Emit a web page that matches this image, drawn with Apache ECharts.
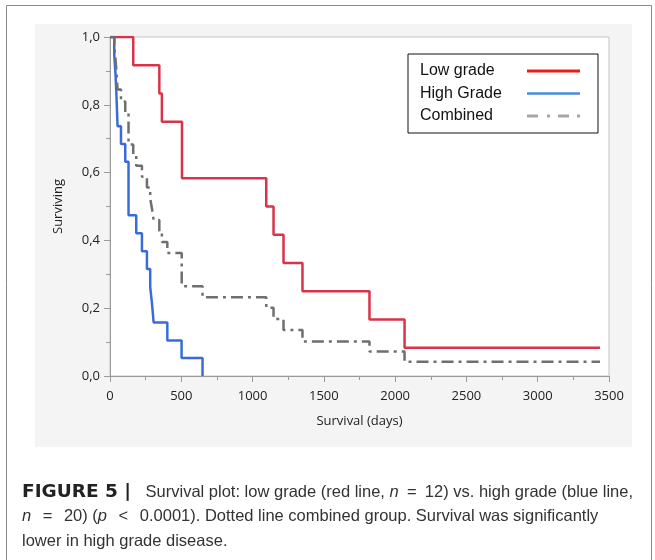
<!DOCTYPE html>
<html>
<head>
<meta charset="utf-8">
<script src="https://cdn.jsdelivr.net/npm/echarts@6/dist/echarts.min.js"></script>
<style>
html,body{margin:0;padding:0;background:#fff;}
#chart{width:655px;height:560px;}
</style>
</head>
<body>
<div id="chart"></div>
<script>
// ---- data ----
var seriesNames = ['Low grade', 'High Grade', 'Combined'];
// Kaplan-Meier steps: [days, surviving fraction]
var lowGrade = [[0,1],[163,0.917],[346,0.833],[364,0.75],[505,0.583],[1096,0.5],[1147,0.417],[1217,0.333],[1350,0.25],[1820,0.167],[2066,0.083],[3437,0.083]];
var highGrade = [[0,1],[30,0.947],[38,0.895],[44,0.842],[53,0.737],[77,0.684],[107,0.632],[130,0.474],[184,0.421],[224,0.368],[259,0.316],[282,0.263],[295,0.211],[306,0.158],[402,0.105],[502,0.053],[649,0]];
var combined = [[0,1],[30,0.969],[38,0.938],[44,0.906],[53,0.845],[77,0.81],[107,0.778],[130,0.683],[163,0.651],[184,0.62],[224,0.588],[259,0.556],[282,0.524],[295,0.492],[306,0.46],[346,0.428],[364,0.395],[402,0.363],[503,0.265],[649,0.232],[1096,0.201],[1147,0.168],[1217,0.136],[1350,0.102],[1820,0.072],[2066,0.042],[3437,0.042]];
var xTicks = [0,500,1000,1500,2000,2500,3000,3500];
var yTickLabels = ['0,0','0,2','0,4','0,6','0,8','1,0'];
var xAxisTitle = 'Survival (days)';
var yAxisTitle = 'Surviving';

var chart = echarts.init(document.getElementById('chart'), null, {renderer:'canvas'});
var axisFont = '"Open Sans", "Noto Sans", sans-serif';
var capFont = '"Liberation Sans", Arial, sans-serif';
var option = {
  animation: false,
  backgroundColor: '#ffffff',
  grid: {left:110, top:37, width:499, height:339, show:true, backgroundColor:'#ffffff', borderColor:'#c4c4c4', borderWidth:1},
  xAxis: {
    type:'value', min:xTicks[0], max:xTicks[xTicks.length-1], interval:500,
    name: xAxisTitle, nameLocation:'middle', nameGap:39,
    nameTextStyle:{fontFamily:axisFont, fontSize:13, color:'#222'},
    axisLine:{show:true, onZero:false, lineStyle:{color:'#9a9a9a', width:1}},
    axisTick:{show:true, inside:false, length:6, lineStyle:{color:'#9a9a9a'}},
    minorTick:{show:true, splitNumber:2, length:4, lineStyle:{color:'#9a9a9a'}},
    splitLine:{show:false},
    axisLabel:{fontFamily:axisFont, fontSize:13, color:'#222', margin:14,
      formatter:function(v){ return String(xTicks[Math.round(v/500)]); }}
  },
  yAxis: {
    type:'value', min:0, max:1, interval:0.2,
    name: yAxisTitle, nameLocation:'middle', nameGap:45, nameRotate:90,
    nameTextStyle:{fontFamily:axisFont, fontSize:13, color:'#222'},
    axisLine:{show:true, lineStyle:{color:'#9a9a9a', width:1}},
    axisTick:{show:true, inside:false, length:6, lineStyle:{color:'#9a9a9a'}},
    minorTick:{show:true, splitNumber:2, length:4, lineStyle:{color:'#9a9a9a'}},
    splitLine:{show:false},
    axisLabel:{fontFamily:axisFont, fontSize:13, color:'#222', margin:10,
      formatter:function(v){ var i = Math.round(v/0.2); return yTickLabels[i]; }}
  },
  legend: {
    show:true, orient:'vertical', left:408, top:54, align:'right',
    padding:[8,18,8,12], itemGap:4.5, itemWidth:53, itemHeight:18,
    borderColor:'#111', borderWidth:1, borderRadius:0, backgroundColor:'#fff',
    selectedMode:false,
    formatter:function(name){ return '{a|' + name + '}'; },
    textStyle:{fontFamily:'"Liberation Sans", Arial, sans-serif', fontSize:16, color:'#111', lineHeight:18,
      rich:{a:{width:102, align:'left', fontFamily:'"Liberation Sans", Arial, sans-serif', fontSize:16, color:'#111', lineHeight:18}}},
    data:[
      {name:seriesNames[0], icon:'path://M0,8L53,8L53,11L0,11Z', itemStyle:{color:'#f01a1a', borderWidth:0}},
      {name:seriesNames[1], icon:'path://M0,8L53,8L53,10.5L0,10.5Z', itemStyle:{color:'#4a8edb', borderWidth:0}},
      {name:seriesNames[2], icon:'path://M0,8L11,8L11,11L0,11Z M20,8L23,8L23,11L20,11Z M31,8L42,8L42,11L31,11Z M50,8L53,8L53,11L50,11Z', itemStyle:{color:'#a6a6a6', borderWidth:0}}
    ]
  },
  series: [
    {name:seriesNames[0], type:'line', step:'end', data:lowGrade, symbol:'none', z:3,
      lineStyle:{color:'#d8334a', width:2.5}, itemStyle:{color:'#d8334a'}},
    {name:seriesNames[1], type:'line', step:'end', data:highGrade, symbol:'none', z:4,
      lineStyle:{color:'#3a6cd9', width:2.5}, itemStyle:{color:'#3a6cd9'}},
    {name:seriesNames[2], type:'line', step:'end', data:combined, symbol:'none', z:5,
      lineStyle:{color:'#6f6f6f', width:2.5, type:[12,5,3,5]}, itemStyle:{color:'#6f6f6f'}}
  ],
  graphic: [
    {type:'rect', z:-10, silent:true, shape:{x:35, y:24, width:597, height:423}, style:{fill:'#f4f4f4'}},
    {type:'rect', z:-9, silent:true, shape:{x:6.5, y:5.5, width:645, height:600}, style:{fill:null, stroke:'#8a8a8a', lineWidth:1}},
    {type:'text', left:22, top:480, silent:true,
      style:{
        text:'{b|FIGURE 5 |} Survival plot: low grade (red line, {i|n}\u2002=\u200212) vs. high grade (blue line,\n{i|n}\u2002\u2009=\u2002\u200920) ({i|p}\u2002\u2009<\u2002\u20090.0001). Dotted line combined group. Survival was significantly\nlower in high grade disease.',
        font:'16.5px ' + capFont, fill:'#333', lineHeight:24.5,
        rich:{
          b:{fontWeight:'bold', fontSize:18.5, fontFamily:'"DejaVu Sans", sans-serif', fill:'#222', lineHeight:24.5, width:119, align:'left'},
          i:{fontStyle:'italic', fontSize:16.5, fontFamily:capFont, fill:'#333', lineHeight:24.5}
        }
      }}
  ]
};
chart.setOption(option);
</script>
</body>
</html>
